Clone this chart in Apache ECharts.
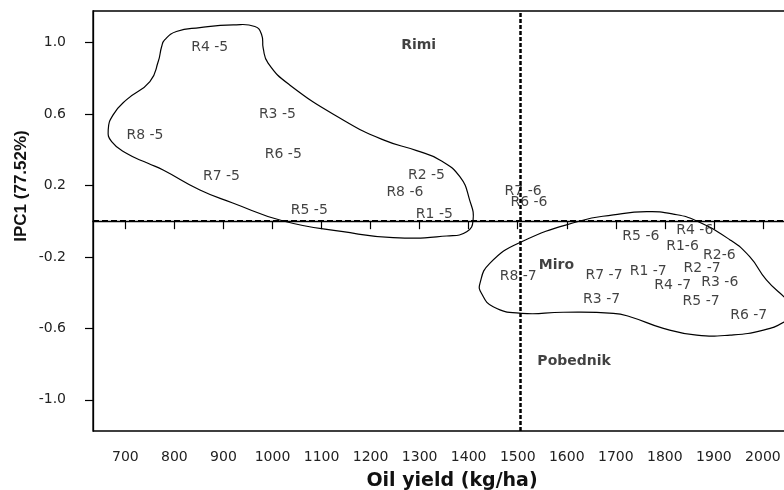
<!DOCTYPE html>
<html>
<head>
<meta charset="utf-8">
<script src="https://cdn.jsdelivr.net/npm/echarts@6/dist/echarts.min.js"></script>
<style>html,body{margin:0;padding:0;background:#fff}#c{width:784px;height:490px}</style>
</head>
<body>
<div id="c"></div>
<script>
// Point labels (text placed at the point)
const pointNames = ['R4 -5','R3 -5','R8 -5','R6 -5','R7 -5','R5 -5','R2 -5','R8 -6','R1 -5','R7 -6','R6 -6','R5 -6','R4 -6','R1-6','R2-6','R8 -7','R7 -7','R1 -7','R2 -7','R4 -7','R3 -6','R3 -7','R5 -7','R6 -7'];
const pointX = [872,1010,740,1022,896,1075,1314,1270,1330,1511,1523,1751,1861,1836,1911,1501,1676,1766,1876,1816,1912,1671,1874,1971];
const pointY = [0.974,0.599,0.479,0.375,0.249,0.059,0.259,0.162,0.040,0.169,0.104,-0.083,-0.053,-0.139,-0.189,-0.307,-0.301,-0.279,-0.264,-0.357,-0.342,-0.436,-0.451,-0.525];

// Cultivar labels (bold)
const cultivarNames = ['Rimi','Miro','Pobednik'];
const cultivarX = [1298,1579,1615];
const cultivarY = [0.982,-0.247,-0.787];

// Hull outlines
const hullRimiX = [774,780,804,852,920,964,978,981,991,1035,1144,1226,1294,1341,1382,1402,1409,1396,1355,1246,1144,1022,919,852,777,746,702,672,665,675,702,750,767];
const hullRimiY = [0.978,1.015,1.062,1.084,1.099,1.090,1.043,0.969,0.885,0.763,0.567,0.455,0.395,0.343,0.249,0.118,0.006,-0.059,-0.083,-0.092,-0.059,0.001,0.102,0.175,0.287,0.324,0.380,0.445,0.511,0.595,0.679,0.782,0.894];
const hullMiroX = [1423,1443,1508,1627,1695,1763,1817,1865,1933,1973,2007,2043,2075,2043,2001,1933,1865,1797,1729,1695,1593,1508,1450,1426];
const hullMiroY = [-0.348,-0.236,-0.115,0.001,0.035,0.053,0.040,0.001,-0.105,-0.199,-0.329,-0.423,-0.497,-0.565,-0.610,-0.638,-0.638,-0.600,-0.535,-0.516,-0.510,-0.516,-0.479,-0.404];

// Reference lines
const meanYield = 1506;
const zeroPC = 0;

// Ticks
const xTicks = [700,800,900,1000,1100,1200,1300,1400,1500,1600,1700,1800,1900,2000];
const yTicks = [-1.0,-0.6,-0.2,0.2,0.6,1.0];

const chart = echarts.init(document.getElementById('c'));

function hullSeries(xs, ys) {
  return {
    type: 'custom',
    coordinateSystem: 'cartesian2d',
    silent: true,
    clip: false,
    data: [[xs[0], ys[0]]],
    renderItem: function (params, api) {
      const pts = xs.map((x, i) => api.coord([x, ys[i]]));
      return {
        type: 'polygon',
        shape: { points: pts, smooth: 0.5 },
        style: { fill: 'none', stroke: '#000', lineWidth: 1.2 }
      };
    }
  };
}

const tickFont = { fontFamily: 'DejaVu Sans', fontSize: 14, color: '#222' };

chart.setOption({
  animation: false,
  backgroundColor: '#fff',
  grid: { left: 93, top: 11, width: 718, height: 420, outerBoundsMode: 'none', containLabel: false, show: true, borderColor: '#000', borderWidth: 1.3, backgroundColor: 'transparent' },
  xAxis: {
    type: 'value', min: 634, max: 2098,
    axisLine: { show: true, lineStyle: { color: '#000', width: 1.3 } },
    axisTick: { show: true, length: 8, lineStyle: { color: '#000', width: 1.2 }, customValues: xTicks },
    axisLabel: Object.assign({ margin: 19, customValues: xTicks, formatter: v => String(v) }, tickFont),
    splitLine: { show: false },
    name: 'Oil yield (kg/ha)', nameLocation: 'middle', nameGap: 41,
    nameTextStyle: { fontFamily: 'DejaVu Sans', fontWeight: 'bold', fontSize: 19, color: '#111' }
  },
  yAxis: {
    type: 'value', min: -1.175, max: 1.177,
    axisLine: { show: true, lineStyle: { color: '#000', width: 1.3 } },
    axisTick: { show: true, length: 8, lineStyle: { color: '#000', width: 1.2 }, customValues: yTicks },
    axisLabel: Object.assign({ margin: 27, customValues: yTicks, formatter: v => v.toFixed(1) }, tickFont),
    splitLine: { show: false }
  },
  graphic: [{
    type: 'text', x: 21, y: 186, rotation: Math.PI / 2,
    style: { text: 'IPC1 (77.52%)', fontFamily: 'Liberation Sans', fontWeight: 'bold', fontSize: 17, fill: '#111', align: 'center', verticalAlign: 'middle' }
  }],
  series: [
    hullSeries(hullRimiX, hullRimiY),
    hullSeries(hullMiroX, hullMiroY),
    {
      type: 'scatter', symbolSize: 1, itemStyle: { color: 'rgba(0,0,0,0)' }, silent: true,
      data: pointNames.map((n, i) => ({ name: n, value: [pointX[i], pointY[i]] })),
      label: { show: true, position: 'inside', formatter: '{b}', fontFamily: 'DejaVu Sans', fontSize: 14, color: '#111' },
      markLine: {
        silent: true, symbol: 'none', label: { show: false },
        data: [
          { xAxis: meanYield, lineStyle: { type: [4, 2], color: '#000', width: 2.5 } },
          { yAxis: zeroPC, lineStyle: { type: [6, 3], color: '#000', width: 2.2 } }
        ]
      }
    },
    {
      type: 'scatter', symbolSize: 1, itemStyle: { color: 'rgba(0,0,0,0)' }, silent: true,
      data: cultivarNames.map((n, i) => ({ name: n, value: [cultivarX[i], cultivarY[i]] })),
      label: { show: true, position: 'inside', formatter: '{b}', fontFamily: 'DejaVu Sans', fontWeight: 'bold', fontSize: 14, color: '#111' }
    }
  ]
});
</script>
</body>
</html>
